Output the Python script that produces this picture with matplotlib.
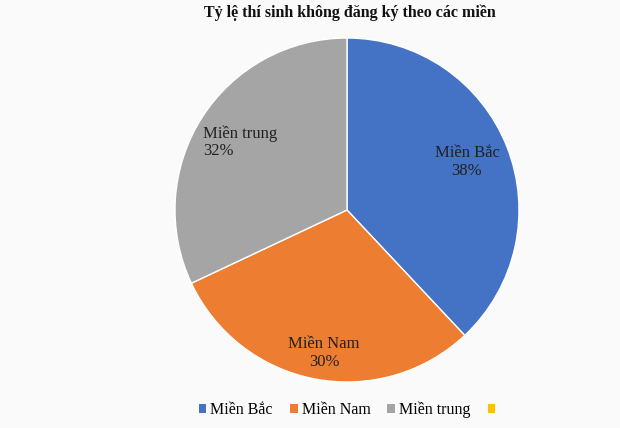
import matplotlib
matplotlib.use("Agg")
import matplotlib.pyplot as plt
from matplotlib.patches import Patch

categories = ["Miền Bắc", "Miền Nam", "Miền trung"]
values = [38, 30, 32]
colors = ["#4472C4", "#ED7D31", "#A5A5A5"]
legend_labels = ["Miền Bắc", "Miền Nam", "Miền trung", ""]
legend_colors = ["#4472C4", "#ED7D31", "#A5A5A5", "#FFC000"]
title = "Tỷ lệ thí sinh không đăng ký theo các miền"

plt.rcParams['font.family'] = ['Liberation Serif', 'DejaVu Serif']

W, H = 620, 428
fig = plt.figure(figsize=(W / 100, H / 100), dpi=100, facecolor="#fafafa")
cx, cy, r = 347, 210, 172
ax = fig.add_axes([(cx - r) / W, (H - cy - r) / H, 2 * r / W, 2 * r / H])
ax.set_facecolor("none")
wedges, _ = ax.pie(values, colors=colors, startangle=90, counterclock=False,
                   radius=1, wedgeprops=dict(edgecolor="white", linewidth=1))
ax.set_xlim(-1, 1)
ax.set_ylim(-1, 1)
ax.set_aspect("equal")

def px(x, y):
    return (x - cx) / r, (cy - y) / r

label_pos = [(467, 162, "center"), (324, 353, "center"), (203, 142, "left")]
for (x, y, ha), cat, v in zip(label_pos, categories, values):
    dx, dy = px(x, y)
    ax.text(dx, dy, f"{cat}\n{v}%", ha=ha, va="center", multialignment=ha,
            fontsize=12, color="#222222", linespacing=1.1)

fig.text(350 / W, 1 - 13 / H, title, ha="center", va="center", fontsize=11.5,
         fontweight="bold", color="#111111")

handles = [Patch(facecolor=c, edgecolor="none") for c in legend_colors]
fig.legend(handles, legend_labels, loc="center", bbox_to_anchor=(349 / W, 1 - 410 / H),
           ncol=4, frameon=False, fontsize=11.5, handlelength=0.5, handleheight=0.5,
           handletextpad=0.25, columnspacing=1.05)

fig.savefig("out.png", dpi=100, facecolor=fig.get_facecolor())
